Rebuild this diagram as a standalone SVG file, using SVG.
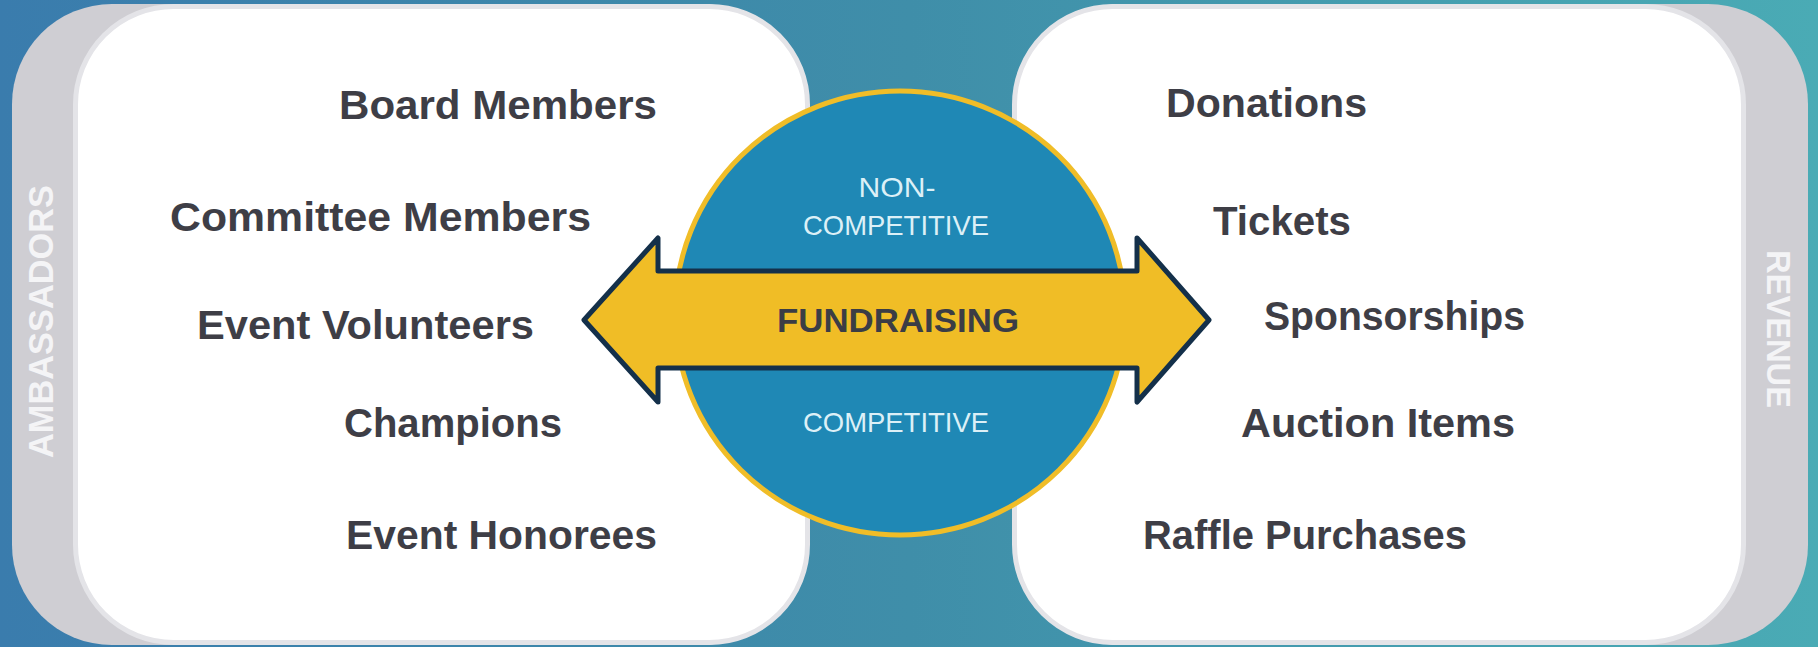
<svg xmlns="http://www.w3.org/2000/svg" width="1818" height="647" viewBox="0 0 1818 647">
  <defs>
    <linearGradient id="bg" x1="0" y1="0" x2="1" y2="0">
      <stop offset="0" stop-color="#3a7cad"/>
      <stop offset="0.5" stop-color="#3f8ea9"/>
      <stop offset="1" stop-color="#4aabb5"/>
    </linearGradient>
    <style>
      .side{fill:#cfced3}
      .card{fill:#ffffff;stroke:#e4e4e8;stroke-width:5}
      .item{font-family:"Liberation Sans",Arial,sans-serif;font-weight:bold;font-size:41px;fill:#3e3e46}
      .tag{font-family:"Liberation Sans",Arial,sans-serif;font-weight:bold;fill:#f4f4f6}
      .inner{font-family:"Liberation Sans",Arial,sans-serif;font-size:28px;fill:#dcf0f7;text-anchor:middle}
    </style>
  </defs>
  <rect x="0" y="0" width="1818" height="647" fill="url(#bg)"/>

  <g id="ambassadors-panel">
    <rect class="side" x="12" y="4" width="790" height="641" rx="100"/>
    <rect class="card" x="75.5" y="6.5" width="732" height="636" rx="98"/>
    <text class="tag" font-size="35" text-anchor="middle" transform="translate(53,321.5) rotate(-90)" textLength="273" lengthAdjust="spacingAndGlyphs">AMBASSADORS</text>
  </g>
  <g id="revenue-panel">
    <rect class="side" x="1020" y="4" width="788" height="641" rx="100"/>
    <rect class="card" x="1014.5" y="6.5" width="729" height="636" rx="98"/>
    <text class="tag" font-size="33" text-anchor="middle" transform="translate(1767,329) rotate(90)" textLength="158" lengthAdjust="spacingAndGlyphs">REVENUE</text>
  </g>

  <g id="ambassadors-items">
    <text class="item" x="339" y="119" textLength="318" lengthAdjust="spacingAndGlyphs">Board Members</text>
    <text class="item" x="170" y="231" textLength="421" lengthAdjust="spacingAndGlyphs">Committee Members</text>
    <text class="item" x="197" y="339" textLength="337" lengthAdjust="spacingAndGlyphs">Event Volunteers</text>
    <text class="item" x="344" y="437" textLength="218" lengthAdjust="spacingAndGlyphs">Champions</text>
    <text class="item" x="346" y="549" textLength="311" lengthAdjust="spacingAndGlyphs">Event Honorees</text>
  </g>
  <g id="revenue-items">
    <text class="item" x="1166" y="117" textLength="201" lengthAdjust="spacingAndGlyphs">Donations</text>
    <text class="item" x="1213" y="235" textLength="138" lengthAdjust="spacingAndGlyphs">Tickets</text>
    <text class="item" x="1264" y="330" textLength="261" lengthAdjust="spacingAndGlyphs">Sponsorships</text>
    <text class="item" x="1241" y="437" textLength="274" lengthAdjust="spacingAndGlyphs">Auction Items</text>
    <text class="item" x="1143" y="549" textLength="324" lengthAdjust="spacingAndGlyphs">Raffle Purchases</text>
  </g>

  <g id="fundraising-circle">
    <ellipse cx="900" cy="313" rx="225" ry="222" fill="#1f88b5" stroke="#f0bd28" stroke-width="5"/>
    <text class="inner" x="897" y="197" textLength="77" lengthAdjust="spacingAndGlyphs">NON-</text>
    <text class="inner" x="896" y="235" textLength="186" lengthAdjust="spacingAndGlyphs">COMPETITIVE</text>
    <text class="inner" x="896" y="432" textLength="186" lengthAdjust="spacingAndGlyphs">COMPETITIVE</text>
  </g>

  <g id="connectors">
    <polygon points="584,320 658,238 658,271 1137,271 1137,238 1209,320 1137,402 1137,368 658,368 658,402" fill="#f0bd26" stroke="#14304a" stroke-width="5" stroke-linejoin="round"/>
    <text x="898" y="332" font-family="'Liberation Sans',Arial,sans-serif" font-weight="bold" font-size="33" fill="#3b3d45" text-anchor="middle" textLength="242" lengthAdjust="spacingAndGlyphs">FUNDRAISING</text>
  </g>
</svg>
